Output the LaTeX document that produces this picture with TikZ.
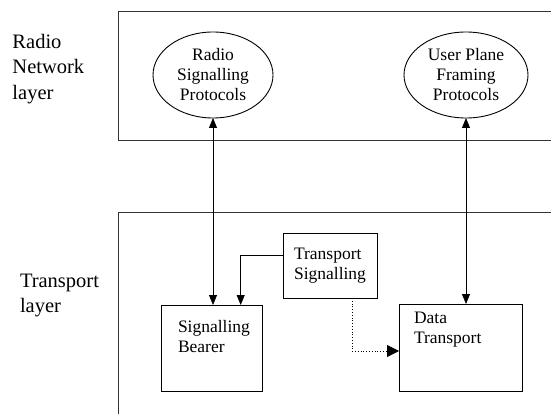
\documentclass[tikz,border=0pt]{standalone}
\usepackage{fontspec}
\setmainfont{Liberation Serif}
\usetikzlibrary{arrows.meta,shapes.geometric}
\begin{document}
\begin{tikzpicture}[x=1pt,y=-1pt,
  every node/.style={inner sep=0pt,outer sep=0pt},
  layerlab/.style={font=\fontsize{20.5}{25.5}\selectfont,align=left,anchor=west},
  txt/.style={font=\fontsize{17.5}{20}\selectfont,align=left},
  proto/.style={draw,ellipse,line width=0.9pt,txt,align=center},
  blk/.style={draw,rectangle,line width=0.9pt},
  frame/.style={line width=0.9pt,draw=black!80},
  link/.style={line width=0.8pt,-{Triangle[length=10pt,width=8pt]}},
  dlink/.style={line width=0.8pt,{Triangle[length=10pt,width=8pt]}-{Triangle[length=10pt,width=8pt]}},
  dotlink/.style={line width=0.8pt,dotted,-{Triangle[length=12pt,width=12pt]}}]
\useasboundingbox (0,0) rectangle (551,414);
% layer frames
\draw[frame] (551,11) -- (118.5,11) -- (118.5,140) -- (551,140);
\draw[frame] (551,212) -- (118.5,212) -- (118.5,414);
% layer labels
\node[layerlab] (lrn) at (12.5,69) {Radio\\Network\\layer};
\node[layerlab] (ltr) at (20,295.5) {Transport\\layer};
% protocols
\node[proto,minimum width=120pt,minimum height=86pt] (RSP) at (213,75) {Radio\\Signalling\\Protocols};
\node[proto,minimum width=124pt,minimum height=86pt] (UPF) at (466,75) {User Plane\\Framing\\Protocols};
% boxes
\node[blk,minimum width=101pt,minimum height=86pt] (SB) at (211.5,348) {};
\node[txt,anchor=north west] (SBt) at (178,320) {Signalling\\Bearer};
\node[blk,txt,minimum width=94pt,minimum height=65pt] (TS) at (330,265.5) {Transport\\Signalling};
\node[blk,minimum width=123pt,minimum height=87pt] (DT) at (460.5,347.5) {};
\node[txt,anchor=north west] (DTt) at (414,312) {Data\\Transport};
% connectors
\draw[dlink] (RSP.south) -- (RSP.south |- SB.north);
\draw[dlink] (UPF.south) -- (UPF.south |- DT.north);
\draw[link] (TS.west |- 0,255) -| (240.7,0 |- SB.north);
\coordinate (dd) at (352,351);
\draw[dotlink] (352,0 |- TS.south) -- (dd) -- (dd -| DT.west);
\end{tikzpicture}
\end{document}
